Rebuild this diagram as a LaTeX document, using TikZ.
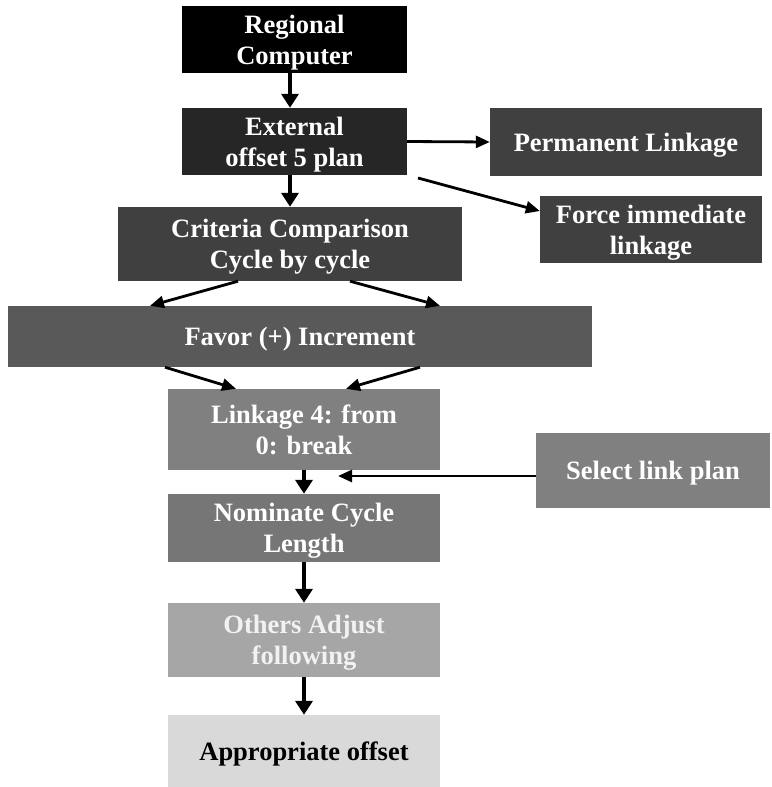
\documentclass[tikz,border=0pt]{standalone}
\usepackage{fontspec}
\setmainfont{Liberation Serif}
\usetikzlibrary{arrows.meta,calc}
\definecolor{cA}{HTML}{000000}
\definecolor{cB}{HTML}{262626}
\definecolor{cC}{HTML}{404040}
\definecolor{cD}{HTML}{595959}
\definecolor{cE}{HTML}{808080}
\definecolor{cF}{HTML}{767676}
\definecolor{cG}{HTML}{A6A6A6}
\definecolor{cH}{HTML}{D9D9D9}
\tikzset{
  box/.style={draw=none, text=white, align=center, inner sep=0pt, text depth=0pt,
    font=\fontsize{26.5}{31}\selectfont\bfseries},
  thick arrow/.style={line width=4.5pt, -{Triangle[length=14pt,width=17pt]}},
  thin arrow/.style={line width=2.8pt, -{Triangle[length=14pt,width=12pt]}}
}
\begin{document}
\begin{tikzpicture}[x=1pt,y=-1pt]
\useasboundingbox (0,0) rectangle (771,787);
% main column
\node[box, fill=cA, minimum width=225pt, minimum height=67pt] (rc) at (294.5,39.5) {Regional\\Computer};
\node[box, fill=cB, minimum width=225pt, minimum height=67pt] (ext) at (294.5,141.5) {External\\offset 5 plan};
\node[box, fill=cC, minimum width=344pt, minimum height=74pt] (crit) at (290,244) {Criteria Comparison\\Cycle by cycle};
\node[box, fill=cD, minimum width=584pt, minimum height=61pt] (fav) at (300,336.5) {Favor (+) Increment};
\node[box, fill=cE, minimum width=272pt, minimum height=81pt] (link) at (304,429.5) {Linkage 4: from\\0: break};
\node[box, fill=cF, minimum width=272pt, minimum height=68pt] (nom) at (304,528) {Nominate Cycle\\Length};
\node[box, fill=cG, text=white!95!black, minimum width=272pt, minimum height=74pt] (oth) at (304,640) {Others Adjust\\following};
\node[box, fill=cH, text=black, minimum width=272pt, minimum height=72pt] (app) at (304,751) {Appropriate offset};
% side boxes
\node[box, fill=cC, minimum width=272pt, minimum height=68pt] (perm) at (626,142) {Permanent Linkage};
\node[box, fill=cC, minimum width=222pt, minimum height=67pt] (force) at (651,229.5) {Force immediate\\linkage};
\node[box, fill=cE, minimum width=234pt, minimum height=75pt] (sel) at (653,470.5) {Select link plan};
% connector ends
\coordinate (fstart) at (418,178);
\coordinate (selend) at (338,476);
% connectors
\draw[thick arrow] (rc.south -| 290,0) -- (ext.north -| 290,0);
\draw[thick arrow] (ext.south -| 290,0) -- (crit.north -| 290,0);
\draw[thin arrow] (ext.east) -- (perm.west);
\draw[thin arrow] (fstart) -- (force.west |- 0,211);
\draw[thin arrow] ($(crit.south)+(-52,0)$) -- ($(fav.north)+(-150,0)$);
\draw[thin arrow] ($(crit.south)+(60,0)$) -- ($(fav.north)+(140,0)$);
\draw[thin arrow] ($(fav.south)+(-135,0)$) -- ($(link.north)+(-68,0)$);
\draw[thin arrow] ($(fav.south)+(120,0)$) -- ($(link.north)+(42,0)$);
\draw[thick arrow] (link.south) -- (nom.north);
\draw[thin arrow] (sel.west |- selend) -- (selend);
\draw[thick arrow] (nom.south) -- (oth.north);
\draw[thick arrow] (oth.south) -- (app.north);
\end{tikzpicture}
\end{document}
